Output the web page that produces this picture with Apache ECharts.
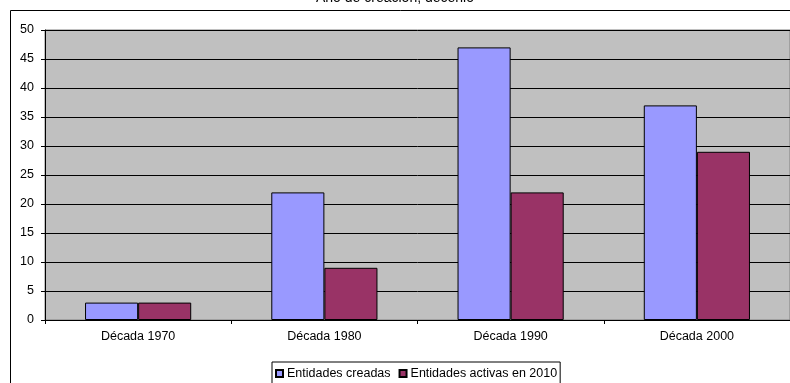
<!DOCTYPE html>
<html>
<head>
<meta charset="utf-8">
<script src="https://cdn.jsdelivr.net/npm/echarts@6/dist/echarts.min.js"></script>
<style>html,body{margin:0;padding:0;background:#fff}#c{width:790px;height:383px}</style>
</head>
<body>
<div id="c"></div>
<script>
const categories = ['Década 1970', 'Década 1980', 'Década 1990', 'Década 2000'];
const seriesNames = ['Entidades creadas', 'Entidades activas en 2010'];
const creadas = [3, 22, 47, 37];
const activas = [3, 9, 22, 29];
const yTicks = { min: 0, max: 50, interval: 5 };
const titleText = 'Año de creación, decenio';

const chart = echarts.init(document.getElementById('c'), null, { renderer: 'canvas' });
const font = 'Liberation Sans, Arial, sans-serif';
chart.setOption({
  animation: false,
  backgroundColor: '#ffffff',
  textStyle: { fontFamily: font },
  title: {
    text: titleText,
    left: 'center',
    top: -14,
    textStyle: { fontSize: 14, fontWeight: 'normal', color: '#000', fontFamily: font }
  },
  graphic: [{
    type: 'rect',
    shape: { x: 10.5, y: 10.5, width: 800, height: 400 },
    style: { fill: 'none', stroke: '#000', lineWidth: 1 },
    z: -1
  }],
  legend: {
    data: seriesNames,
    left: 272,
    top: 362,
    itemWidth: 7,
    itemHeight: 7,
    itemGap: 8,
    padding: [5, 3, 10, 3],
    borderColor: '#000',
    borderWidth: 1,
    icon: 'rect',
    textStyle: { fontSize: 12.5, color: '#000', fontFamily: font, padding: [0, 0, 0, -1] }
  },
  grid: {
    left: 45, top: 30, right: -3, bottom: 63,
    show: true,
    backgroundColor: '#C0C0C0',
    borderColor: '#808080',
    borderWidth: 1
  },
  xAxis: {
    type: 'category',
    data: categories,
    axisLine: { show: true, lineStyle: { color: '#000', width: 1 } },
    axisTick: { show: true, length: 4, lineStyle: { color: '#000' } },
    axisLabel: { fontSize: 12.5, color: '#000', margin: 10, fontFamily: font },
    splitLine: { show: false }
  },
  yAxis: {
    type: 'value',
    min: yTicks.min, max: yTicks.max, interval: yTicks.interval,
    axisLine: { show: true, lineStyle: { color: '#000', width: 1 } },
    axisTick: { show: true, length: 4, lineStyle: { color: '#000' } },
    axisLabel: { fontSize: 12.5, color: '#000', margin: 11, fontFamily: font },
    splitLine: { show: true, lineStyle: { color: '#000', width: 1 } }
  },
  series: [
    {
      name: seriesNames[0], type: 'bar', data: creadas,
      barGap: '0%', barCategoryGap: '43%',
      itemStyle: { color: '#9999FF', borderColor: '#000', borderWidth: 1 }
    },
    {
      name: seriesNames[1], type: 'bar', data: activas,
      itemStyle: { color: '#993366', borderColor: '#000', borderWidth: 1 }
    }
  ]
});
</script>
</body>
</html>
